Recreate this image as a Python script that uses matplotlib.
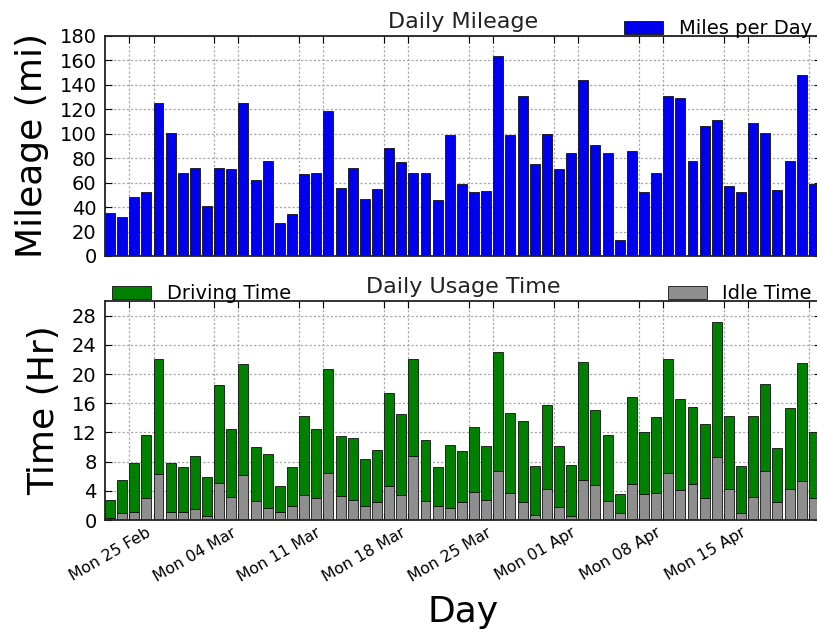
import matplotlib
matplotlib.use("Agg")
import matplotlib.pyplot as plt
import matplotlib.dates as mdates
import numpy as np
import datetime as dt

# ---- data ----
start_date = "2013-02-21"
miles_per_day = [35, 32, 48, 52, 125, 101, 68, 72, 41, 72, 71, 125, 62, 78, 27, 34, 67, 68, 119, 56,
                 72, 47, 55, 88, 77, 68, 68, 46, 99, 59, 52, 53, 164, 99, 131, 75, 100, 71, 84, 144,
                 91, 84, 13, 86, 52, 68, 131, 129, 78, 106, 111, 57, 52, 109, 101, 54, 78, 148, 59]
idle_hours = [0.3, 1.0, 1.1, 3.0, 6.3, 1.1, 1.1, 1.5, 0.6, 5.1, 3.2, 6.1, 2.6, 1.7, 1.1, 1.9, 3.4, 3.0, 6.5, 3.3,
              2.7, 1.9, 2.5, 4.6, 3.4, 8.7, 2.6, 1.9, 1.7, 2.5, 3.9, 2.7, 6.7, 3.7, 2.5, 0.7, 4.3, 1.8, 0.5, 5.5,
              4.8, 2.6, 1.0, 5.0, 3.5, 3.7, 6.5, 4.1, 5.0, 3.0, 8.6, 4.3, 1.0, 3.2, 6.7, 2.5, 4.2, 5.4, 3.0]
driving_hours = [2.4, 4.5, 6.7, 8.6, 15.8, 6.7, 6.2, 7.2, 5.3, 13.4, 9.3, 15.3, 7.4, 7.3, 3.5, 5.4, 10.8, 9.5, 14.2, 8.2,
                 8.5, 6.4, 7.1, 12.8, 11.1, 13.3, 8.4, 5.4, 8.6, 6.9, 8.8, 7.5, 16.3, 11.0, 11.0, 6.7, 11.4, 8.3, 7.1, 16.2,
                 10.3, 9.1, 2.5, 11.9, 8.5, 10.4, 15.5, 12.5, 10.5, 10.2, 18.5, 9.9, 6.4, 11.0, 11.9, 7.3, 11.2, 16.1, 9.0]

d0 = dt.datetime.strptime(start_date, "%Y-%m-%d")
days = [d0 + dt.timedelta(days=i) for i in range(len(miles_per_day))]
xnum = mdates.date2num(days)

W, H = 817, 634
fig = plt.figure(figsize=(W / 100, H / 100), dpi=100)

left = 105 / W
width = (821 - 105) / W
ax1 = fig.add_axes([left, 1 - 256 / H, width, (256 - 36) / H])
ax2 = fig.add_axes([left, 1 - 520 / H, width, (520 - 301) / H], sharex=ax1)

grid_kw = dict(color="#a8a8a8", linestyle=(0, (1.8, 1.6)), linewidth=0.9)

ax1.bar(xnum, miles_per_day, width=0.82, align="edge", color="#0000f0",
        edgecolor="#111111", linewidth=0.6, label="Miles per Day", zorder=2)
b_idle = ax2.bar(xnum, idle_hours, width=0.82, align="edge", color="#8e8e8e",
                 edgecolor="#111111", linewidth=0.6, label="Idle Time", zorder=2)
b_drv = ax2.bar(xnum, driving_hours, bottom=idle_hours, width=0.82, align="edge", color="#008000",
                edgecolor="#111111", linewidth=0.6, label="Driving Time", zorder=2)

xmin = mdates.date2num(d0)
xmax = xmin + len(miles_per_day)
for ax in (ax1, ax2):
    ax.set_xlim(xmin, xmax)
    ax.xaxis.set_major_locator(mdates.WeekdayLocator(byweekday=mdates.MO))
    ax.xaxis.set_minor_locator(mdates.WeekdayLocator(byweekday=mdates.SA))
    ax.xaxis.set_major_formatter(mdates.DateFormatter("%a %d %b"))
    ax.grid(True, which="both", **grid_kw)
    ax.set_axisbelow(True)
    ax.tick_params(which="both", direction="in", top=True, right=True, length=5, width=0.8)
    ax.tick_params(axis="y", labelsize=14, pad=6)
    for s in ax.spines.values():
        s.set_linewidth(1.3)
        s.set_color("#222222")

ax1.set_ylim(0, 180)
ax1.set_yticks(np.arange(0, 181, 20))
ax2.set_ylim(0, 30)
ax2.set_yticks(np.arange(0, 29, 4))
ax1.tick_params(axis="x", labelbottom=False)

for lab in ax2.get_xticklabels():
    lab.set_rotation(30)
    lab.set_ha("right")
    lab.set_fontsize(11.3)

ax1.set_title("Daily Mileage", fontsize=16, color="#222222")
ax2.set_title("Daily Usage Time", fontsize=16, color="#222222")
ax1.set_ylabel("Mileage (mi)", fontsize=26, labelpad=8)
ax2.set_ylabel("Time (Hr)", fontsize=26, labelpad=8)
ax2.set_xlabel("Day", fontsize=26, labelpad=8)

leg_kw = dict(frameon=False, fontsize=14, borderpad=0, borderaxespad=0)
ax1.legend(loc="lower right", bbox_to_anchor=(0.987, 0.99), **leg_kw)
l1 = ax2.legend(handles=[b_drv], loc="lower left", bbox_to_anchor=(0.01, 0.99), **leg_kw)
ax2.add_artist(l1)
ax2.legend(handles=[b_idle], loc="lower right", bbox_to_anchor=(0.987, 0.99), **leg_kw)

fig.savefig("out.png", dpi=100)
